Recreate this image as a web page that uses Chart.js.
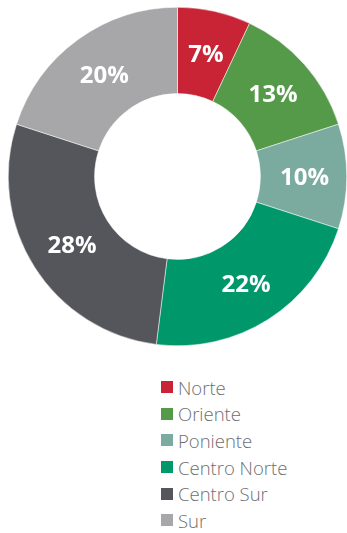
<!DOCTYPE html>
<html>
<head>
<meta charset="utf-8">
<script src="https://cdn.jsdelivr.net/npm/chart.js@4"></script>
<style>
    html, body { margin: 0; padding: 0; background: #fff; }
    #wrap { position: relative; width: 347px; height: 353px; }
    #legend { list-style: none; margin: 0; padding: 0; position: absolute; left: 161px; top: 374px; }
    #legend li { height: 26.6px; display: flex; align-items: center; font-family: "Open Sans", sans-serif; font-weight: 300; font-size: 18.5px; color: #6d6e71; }
    #legend span.box { width: 12px; height: 12px; margin-right: 5px; display: inline-block; }
</style>
</head>
<body>
<div id="wrap"><canvas id="grafico"></canvas></div>
<ul id="legend"></ul>
<script>
const zonas = ['Norte', 'Oriente', 'Poniente', 'Centro Norte', 'Centro Sur', 'Sur'];
const porcentajes = [7, 13, 10, 22, 28, 20];
const colores = ['#c82436', '#559a48', '#7bab9e', '#00976b', '#55565b', '#a7a7a9'];

// Etiquetas de porcentaje dentro de cada porción
const etiquetasPlugin = {
    id: 'etiquetas',
    afterDatasetsDraw(chart) {
        const ctx = chart.ctx;
        const meta = chart.getDatasetMeta(0);
        ctx.save();
        ctx.fillStyle = '#fff';
        ctx.font = 'bold 24px "Open Sans", sans-serif';
        ctx.textAlign = 'center';
        ctx.textBaseline = 'middle';
        meta.data.forEach((arc, i) => {
            const p = arc.tooltipPosition();
            ctx.fillText(porcentajes[i] + '%', p.x + 1, p.y + 2);
        });
        ctx.restore();
    }
};

new Chart(document.getElementById('grafico'), {
    type: 'doughnut',
    data: {
        labels: zonas,
        datasets: [{
            data: porcentajes,
            backgroundColor: colores,
            borderColor: '#fff',
            borderWidth: 0.5
        }]
    },
    options: {
        responsive: true,
        maintainAspectRatio: false,
        animation: false,
        cutout: '49%',
        layout: { padding: { left: 8, right: 0, top: 6, bottom: 6 } },
        plugins: {
            legend: { display: false },
            tooltip: { enabled: false }
        }
    },
    plugins: [etiquetasPlugin]
});

const legend = document.getElementById('legend');
zonas.forEach((z, i) => {
    const li = document.createElement('li');
    li.innerHTML = `<span class="box" style="background:${colores[i]}"></span>${z}`;
    legend.appendChild(li);
});
</script>
</body>
</html>
